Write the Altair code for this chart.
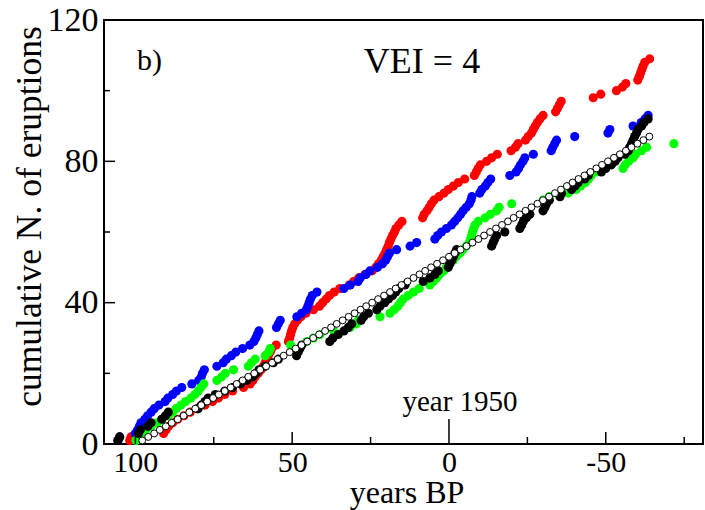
import altair as alt
import pandas as pd

red_years = [101.8, 101.4, 91.0, 90.2, 89.4, 88.1, 86.5, 84.5, 82.5, 80.2,
             77.8, 75.4, 73.5, 71.5, 69.0, 65.5, 63.4, 62.5, 61.8, 60.8,
             59.9, 59.2, 58.6, 58.1, 57.6, 57.0, 56.5, 55.1, 51.2, 50.8,
             50.5, 50.2, 49.8, 49.2, 48.3, 47.2, 45.6, 43.2, 41.3, 40.3,
             39.2, 38.1, 36.6, 34.8, 31.8, 30.4, 28.8, 26.8, 24.5, 23.3,
             22.5, 21.6, 21.0, 20.4, 19.9, 19.4, 19.0, 18.5, 18.0, 17.4,
             16.9, 16.0, 15.0, 8.4, 7.9, 7.0, 6.3, 5.6, 4.8, 3.2,
             1.6, 0.2, -1.4, -3.0, -5.0, -8.1, -8.7, -9.3, -10.0, -12.0,
             -13.6, -15.4, -19.8, -21.2, -22.0, -24.4, -25.3, -26.3, -26.9, -27.5,
             -28.2, -29.0, -30.0, -34.0, -34.6, -35.2, -35.8, -46.0, -48.4, -53.4,
             -55.3, -56.4, -60.2, -60.7, -61.1, -61.5, -61.9, -62.4, -64.0]

blue_years = [105.5, 105.0, 100.0, 99.3, 98.7, 98.2, 97.0, 96.1, 95.0, 94.0,
              92.5, 90.5, 89.6, 88.1, 86.9, 85.2, 82.0, 79.8, 79.0, 78.6,
              78.0, 74.0, 72.0, 71.0, 69.4, 68.0, 65.8, 63.5, 62.2, 61.6,
              61.1, 60.6, 55.0, 54.4, 53.8, 48.5, 47.0, 45.5, 45.0, 44.6,
              44.2, 43.6, 42.1, 33.5, 31.5, 29.0, 28.3, 26.5, 25.2, 22.8,
              21.2, 20.2, 19.6, 19.0, 16.7, 12.4, 10.3, 4.5, 3.6, 2.4,
              0.8, -0.8, -1.8, -2.8, -3.7, -4.5, -5.5, -6.5, -7.0, -7.3,
              -9.8, -10.5, -11.6, -12.4, -13.3, -19.4, -21.4, -22.2, -22.8, -23.6,
              -24.2, -26.9, -32.6, -33.1, -33.7, -34.3, -40.1, -50.7, -51.3, -58.7,
              -61.3, -62.5, -63.5]

green_years = [99.8, 99.0, 98.2, 96.6, 95.0, 93.0, 91.5, 89.5, 88.1, 87.0,
               85.5, 84.0, 82.3, 81.0, 80.0, 79.1, 78.2, 74.0, 72.5, 71.3,
               68.7, 64.0, 63.0, 61.8, 58.6, 57.5, 57.0, 50.5, 45.3, 43.2,
               41.1, 36.8, 31.5, 29.5, 28.9, 22.0, 18.8, 17.5, 16.3, 15.5,
               14.6, 13.0, 11.3, 9.5, 6.1, 5.0, 3.9, 3.0, 1.6, 0.8,
               -0.3, -1.4, -2.3, -3.5, -4.4, -5.5, -6.5, -6.9, -7.2, -7.5,
               -7.9, -8.3, -9.3, -11.5, -13.2, -15.2, -16.0, -20.0, -30.0, -32.0,
               -38.0, -40.5, -42.0, -43.5, -44.5, -45.3, -47.0, -55.5, -56.2, -57.3,
               -58.7, -59.5, -61.4, -63.0, -71.7]

black_years = [105.6, 105.0, 99.0, 98.4, 96.0, 95.0, 91.6, 90.4, 89.5, 80.0,
               79.0, 77.8, 76.8, 74.5, 71.5, 69.0, 66.5, 64.5, 62.6, 61.5,
               60.6, 58.6, 56.0, 54.4, 48.6, 48.1, 47.5, 46.9, 38.0, 37.0,
               35.3, 33.5, 32.1, 31.0, 28.0, 27.2, 25.7, 23.0, 22.0, 20.5,
               19.3, 18.0, 17.0, 16.0, 14.0, 8.2, 6.1, 4.5, 3.4, 0.2,
               -0.3, -0.9, -1.4, -1.9, -2.4, -13.6, -14.1, -14.6, -15.2, -17.8,
               -22.6, -23.2, -23.7, -24.7, -25.8, -30.0, -30.6, -31.1, -32.0, -35.4,
               -35.9, -39.1, -40.2, -41.2, -43.3, -44.4, -48.6, -50.0, -51.8, -53.0,
               -53.9, -56.1, -57.2, -57.6, -58.2, -58.7, -59.2, -59.8, -60.3, -61.4,
               -62.2, -63.5]

open_years = [97.8, 95.9, 94.0, 92.2, 90.3, 88.4, 86.5, 84.6, 82.8, 80.9,
              79.0, 77.1, 75.2, 73.4, 71.5, 69.6, 67.7, 65.8, 64.0, 62.1,
              60.2, 58.3, 56.4, 54.6, 52.7, 50.8, 48.9, 47.0, 45.2, 43.3,
              41.4, 39.5, 37.6, 35.8, 33.9, 32.0, 30.1, 28.2, 26.4, 24.5,
              22.6, 20.7, 18.8, 17.0, 15.1, 13.2, 11.3, 9.4, 7.6, 5.7,
              3.8, 1.9, 0.0, -1.8, -3.7, -5.6, -7.5, -9.4, -11.2, -13.1,
              -15.0, -16.9, -18.8, -20.6, -22.5, -24.4, -26.3, -28.2, -30.0, -31.9,
              -33.8, -35.7, -37.6, -39.4, -41.3, -43.2, -45.1, -47.0, -48.8, -50.7,
              -52.6, -54.5, -56.4, -58.2, -60.1, -62.0, -63.9]

series_names = ["red", "blue", "green", "black"]
series_colors = ["#ff0000", "#0000ff", "#00ff00", "#000000"]

x_ticks_major = [100, 50, -50]
x_ticks_minor = [75, 25, -25, -75]
x_marker = [0]
x_labels = [100, 50, 0, -50]
y_ticks_major = [40, 80]
y_ticks_minor = [20, 60, 100]
y_labels = [0, 40, 80, 120]

FONT = "Liberation Serif"
W, H = 599, 424

rows = []
for name, ys in zip(series_names, [red_years, blue_years, green_years, black_years]):
    for v in ys:
        rows.append({"series": name, "year": v})
filled_df = pd.DataFrame(rows)
open_df = pd.DataFrame({"series": "open", "year": open_years})

xs = alt.Scale(domain=[110, -81], nice=False, zero=False)
ys_ = alt.Scale(domain=[0, 120], nice=False, zero=True)

filled = alt.Chart(filled_df).transform_window(
    n="row_number()", groupby=["series"], sort=[alt.SortField("year", order="descending")]
).transform_calculate(
    ord="indexof(['red','blue','green','black'], datum.series)"
).mark_circle(size=84, opacity=1).encode(
    x=alt.X("year:Q", scale=xs,
            axis=alt.Axis(values=x_labels, ticks=False, grid=False, domain=False,
                          labelFont=FONT, labelFontSize=30, labelColor="black",
                          labelPadding=3,
                          labelExpr="datum.value < 0 ? '-' + abs(datum.value) : '' + datum.value",
                          title="years BP", titleFont=FONT,
                          titleFontSize=32, titleFontWeight="normal", titleColor="black",
                          titleBaseline="alphabetic", titleY=58, titleX=W / 2 + 3)),
    y=alt.Y("n:Q", scale=ys_,
            axis=alt.Axis(values=y_labels, ticks=False, grid=False, domain=False,
                          labelFont=FONT, labelFontSize=34, labelColor="black",
                          labelPadding=6, title="cumulative N. of eruptions", titleFont=FONT,
                          titleFontSize=35.5, titleFontWeight="normal", titleColor="black",
                          titleBaseline="middle", titleAlign="center",
                          titleX=-75, titleY=196)),
    color=alt.Color("series:N", scale=alt.Scale(domain=series_names, range=series_colors), legend=None),
    order=alt.Order("ord:Q"),
)

opened = alt.Chart(open_df).transform_window(
    n="row_number()", sort=[alt.SortField("year", order="descending")]
).mark_point(shape="circle", size=48, filled=False, fill="white", fillOpacity=1,
             stroke="black", strokeWidth=1, opacity=1).encode(
    x=alt.X("year:Q", scale=xs),
    y=alt.Y("n:Q", scale=ys_),
)

def xtick(vals, h):
    return alt.Chart(pd.DataFrame({"v": vals})).mark_rule(color="black", strokeWidth=1.5).encode(
        x=alt.X("v:Q", scale=xs), y=alt.value(H), y2=alt.value(H - h))

def ytick(vals, w):
    return alt.Chart(pd.DataFrame({"v": vals})).mark_rule(color="black", strokeWidth=1.5).encode(
        y=alt.Y("v:Q", scale=ys_), x=alt.value(0), x2=alt.value(w))

vei = alt.Chart(pd.DataFrame({"t": ["VEI = 4"]})).mark_text(
    font=FONT, fontSize=36, align="center", baseline="alphabetic", color="black"
).encode(text="t:N", x=alt.value(318), y=alt.value(53))
blab = alt.Chart(pd.DataFrame({"t": ["b)"]})).mark_text(
    font=FONT, fontSize=30, align="left", baseline="alphabetic", color="black"
).encode(text="t:N", x=alt.value(33), y=alt.value(50))
yr = alt.Chart(pd.DataFrame({"t": ["year 1950"]})).mark_text(
    font=FONT, fontSize=29, align="center", baseline="alphabetic", color="black"
).encode(text="t:N", x=alt.value(356), y=alt.value(391))

chart = alt.layer(
    filled, opened,
    xtick(x_ticks_major, 12), xtick(x_ticks_minor, 7), xtick(x_marker, 25),
    ytick(y_ticks_major, 11), ytick(y_ticks_minor, 6),
    vei, blab, yr,
).properties(
    width=W, height=H,
    padding={"left": 104, "top": 20, "right": 2, "bottom": 66},
    autosize="none",
    background="white",
).configure_view(stroke="black", strokeWidth=2)

chart.save("out.html", embed_options={"renderer": "svg", "actions": False})
